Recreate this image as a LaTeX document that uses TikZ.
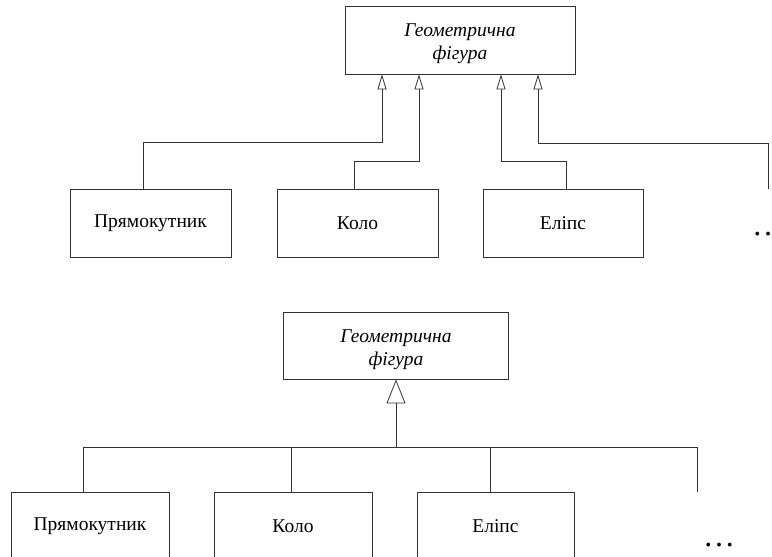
\documentclass[tikz,border=0pt]{standalone}
\usepackage{fontspec}
\setmainfont{Liberation Serif}
\usetikzlibrary{arrows.meta}

\begin{document}
\begin{tikzpicture}[x=1pt,y=1pt,
    box/.style={draw=black!80, line width=0.8pt, minimum width=161pt, minimum height=68pt,
      inner sep=0pt, align=center, font=\fontsize{19.5}{23}\selectfont},
    parent/.style={box, text depth=0pt, font=\fontsize{19.5}{23}\selectfont\itshape},
    link/.style={draw=black!80, line width=0.8pt},
    inh/.style={link, -{Triangle[open, length=15pt, width=9pt]}},
    inhbig/.style={link, -{Triangle[open, length=24pt, width=19pt]}},
    more/.style={font=\fontsize{32}{32}\selectfont, inner sep=0pt}]
    \clip (0,0) rectangle (772,557);

    % upper variant: one arrow per subclass
    \node[parent, minimum width=230pt] (g1) at (460,517) {\rule{0pt}{17pt}Геометрична\\фігура};
    \node[box] (r1) at (150.5,334) {Прямокутник};
    \node[box] (c1) at (357.5,334) {Коло};
    \node[box, minimum width=160pt] (e1) at (563,334) {Еліпс};
    \node[more] (m1) at (768,323) {…};
    \coordinate (d1) at (768,368);

    \coordinate (t1) at ([xshift=-78pt]g1.south);
    \coordinate (t2) at ([xshift=-41pt]g1.south);
    \coordinate (t3) at ([xshift=41pt]g1.south);
    \coordinate (t4) at ([xshift=78pt]g1.south);

    \draw[inh] ([xshift=-7.5pt]r1.north) -- ++(0,46) -| (t1);
    \draw[inh] ([xshift=-3.5pt]c1.north) -- ++(0,27) -| (t2);
    \draw[inh] ([xshift=3pt]e1.north) -- ++(0,27) -| (t3);
    \draw[inh] (d1) -- ++(0,46) -| (t4);

    % lower variant: one shared arrow
    \node[parent, minimum width=225pt, minimum height=67pt] (g2) at (396,211.5) {\rule{0pt}{17pt}Геометрична\\фігура};
    \node[box, minimum width=158pt] (r2) at (90,31) {Прямокутник};
    \node[box, minimum width=158pt] (c2) at (293,31) {Коло};
    \node[box, minimum width=157pt] (e2) at (495.5,31) {Еліпс};
    \node[more] (m2) at (719,11.5) {…};

    \coordinate (j) at (396,110);
    \coordinate (hl) at ([xshift=-7pt]r2.north |- j);
    \coordinate (hr) at (697,110);
    \coordinate (d2) at (697,65);

    \draw[inhbig] (j) -- (g2.south);
    \draw[link] (hl) -- (hr) -- (d2);
    \foreach \b/\dx in {r2/-7pt, c2/-2pt, e2/-5.5pt}
        \draw[link] ([xshift=\dx]\b.north) -- ([xshift=\dx]\b.north |- j);
\end{tikzpicture}
\end{document}
